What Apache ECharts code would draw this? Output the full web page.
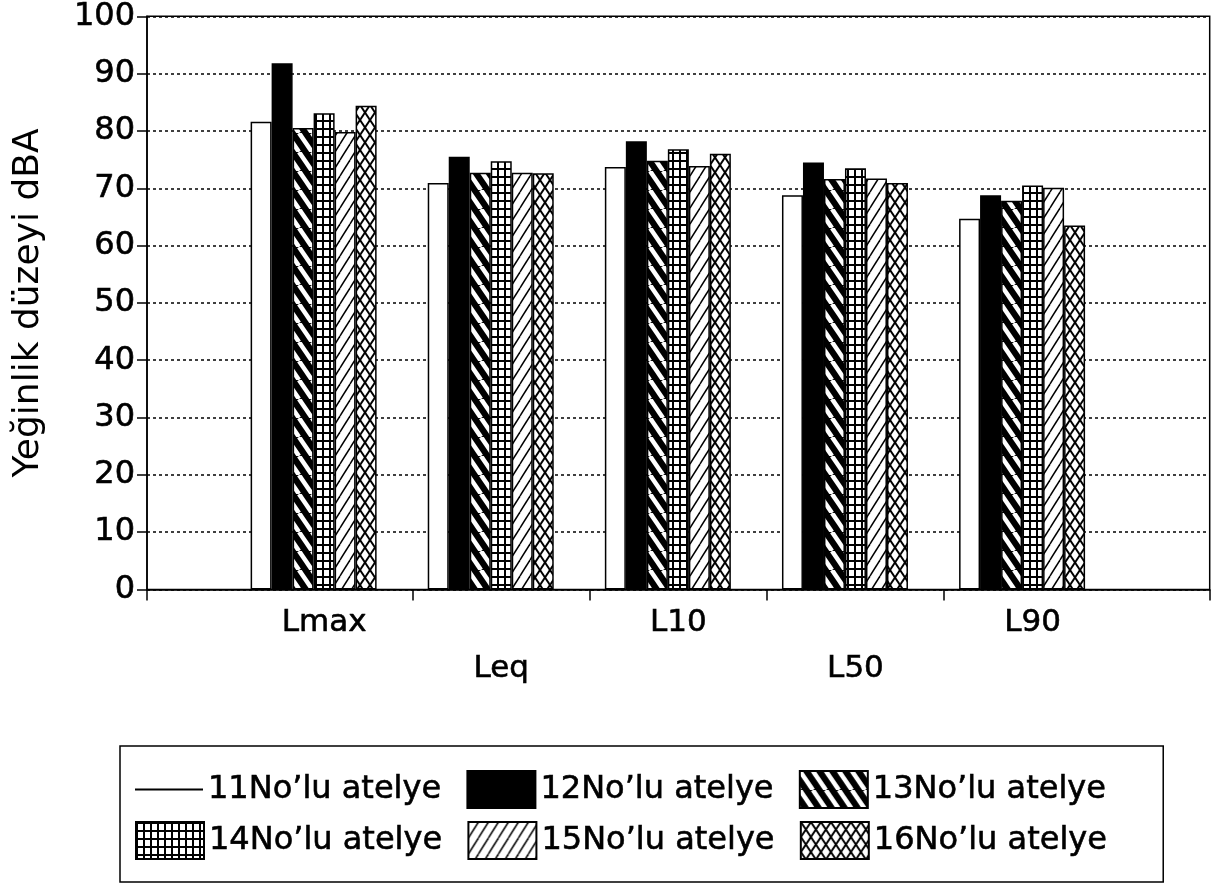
<!DOCTYPE html>
<html><head><meta charset="utf-8">
<script src="https://cdn.jsdelivr.net/npm/echarts@6/dist/echarts.min.js"></script>
<style>html,body{margin:0;padding:0;background:#fff}#c{width:1213px;height:884px}</style>
</head><body><div id="c"></div>
<script>
// ---- data ----
const categories = ['Lmax', 'Leq', 'L10', 'L50', 'L90'];
const seriesNames = ['11No\u2019lu atelye', '12No\u2019lu atelye', '13No\u2019lu atelye',
                     '14No\u2019lu atelye', '15No\u2019lu atelye', '16No\u2019lu atelye'];
const s11 = [81.6, 70.9, 73.7, 68.8, 64.7];
const s12 = [91.8, 75.5, 78.2, 74.5, 68.8];
const s13 = [80.5, 72.7, 74.8, 71.6, 67.8];
const s14 = [83.1, 74.7, 76.8, 73.5, 70.5];
const s15 = [79.8, 72.7, 73.9, 71.7, 70.1];
const s16 = [84.4, 72.6, 76.0, 70.9, 63.5];
const yTicks = [0, 10, 20, 30, 40, 50, 60, 70, 80, 90, 100];
const yTitle = 'Yeğinlik düzeyi dBA';

// ---- patterns ----
function tile(w, h, draw) {
  const c = document.createElement('canvas');
  c.width = w; c.height = h;
  const g = c.getContext('2d');
  draw(g, w, h);
  return { image: c, repeat: 'repeat' };
}
const FONT = 'DejaVu Sans';
const p13 = tile(13, 19, (g, w, h) => {
  g.fillStyle = '#000'; g.fillRect(0, 0, w, h);
  g.strokeStyle = '#fff'; g.lineWidth = 4.5;
  for (let k = -1; k <= 1; k++) { g.beginPath(); g.moveTo(k * w, 0); g.lineTo(k * w + w, h); g.stroke(); }
});
const p14 = tile(7, 8, (g, w, h) => {
  g.fillStyle = '#000'; g.fillRect(0, 0, w, h);
  g.fillStyle = '#fff'; g.fillRect(2, 2, 5, 6);
});
const p15 = tile(10, 16, (g, w, h) => {
  g.fillStyle = '#fff'; g.fillRect(0, 0, w, h);
  g.strokeStyle = '#000'; g.lineWidth = 1.5;
  for (let k = -1; k <= 1; k++) { g.beginPath(); g.moveTo(k * w, h); g.lineTo(k * w + w, 0); g.stroke(); }
});
const p16 = tile(10, 15, (g, w, h) => {
  g.fillStyle = '#fff'; g.fillRect(0, 0, w, h);
  g.strokeStyle = '#000'; g.lineWidth = 2;
  for (let k = -1; k <= 1; k++) {
    g.beginPath(); g.moveTo(k * w, 0); g.lineTo(k * w + w, h); g.stroke();
    g.beginPath(); g.moveTo(k * w, h); g.lineTo(k * w + w, 0); g.stroke();
  }
});
const fills = ['#fff', '#000', p13, p14, p15, p16];
const valueSets = [s11, s12, s13, s14, s15, s16];

const axisCats = [''].concat(categories, ['']);
const series = valueSets.map((vals, i) => ({
  name: seriesNames[i], type: 'bar', xAxisIndex: 0, yAxisIndex: 0,
  barWidth: 21, barGap: '0%',
  data: ['-'].concat(vals, ['-']),
  itemStyle: { color: fills[i], borderColor: '#000', borderWidth: 1.5 }
}));
// spacer slot so each group sits slightly left of its category point
series.push({ name: 'spacer', type: 'bar', xAxisIndex: 0, barWidth: 21, barGap: '0%',
  data: axisCats.map(() => '-'), itemStyle: { color: 'transparent' } });

const black = { color: '#000', width: 1.5 };
const heavy = { textBorderColor: '#000', textBorderWidth: 0.6 };
const chart = echarts.init(document.getElementById('c'), null, { renderer: 'canvas' });
chart.setOption({
  animation: false,
  backgroundColor: '#fff',
  grid: { left: 147, right: 2, top: 16, bottom: 294.5, show: true, borderColor: '#000', borderWidth: 1.5, backgroundColor: 'transparent' },
  xAxis: [
    { type: 'category', data: axisCats, boundaryGap: false, position: 'bottom',
      axisLine: { show: false }, axisTick: { show: false }, splitLine: { show: false },
      axisLabel: Object.assign({ interval: 0, margin: 10, fontSize: 31, fontFamily: FONT, color: '#000', lineHeight: 46,
        formatter: (v, i) => (i % 2 === 0 ? '\n' + v : v) }, heavy) },
    { type: 'value', min: 0, max: 6, position: 'bottom',
      axisLine: { show: true, onZero: false, lineStyle: black },
      axisTick: { show: true, length: 11, customValues: [0, 1.5, 2.5, 3.5, 4.5, 6], lineStyle: black },
      axisLabel: { show: false }, splitLine: { show: false } }
  ],
  yAxis: {
    type: 'value', min: yTicks[0], max: yTicks[yTicks.length - 1], interval: 10,
    name: yTitle, nameLocation: 'middle', nameGap: 100,
    nameTextStyle: { fontSize: 36, fontFamily: FONT, color: '#000' },
    axisLine: { show: true, lineStyle: black },
    axisTick: { show: true, length: 10, lineStyle: black },
    axisLabel: Object.assign({ fontSize: 32, fontFamily: FONT, color: '#000', margin: 12 }, heavy),
    splitLine: { show: true, lineStyle: { color: '#000', width: 1.5, type: [3, 3] } }
  },
  legend: [
    { left: 120, top: 746, orient: 'horizontal', padding: [24, 57, 73, 15], icon: 'rect',
      itemWidth: 68, itemHeight: 37, itemGap: 25, borderColor: '#000', borderWidth: 1.5,
      textStyle: Object.assign({ fontSize: 32, fontFamily: FONT, color: '#000' }, heavy),
      data: [
        { name: seriesNames[0], icon: 'path://M0,0H100V3H0Z', itemStyle: { color: '#000', borderWidth: 0 } },
        seriesNames[1], seriesNames[2]
      ] },
    { left: 135, top: 821, orient: 'horizontal', padding: 0, icon: 'rect',
      itemWidth: 68, itemHeight: 37, itemGap: 25,
      textStyle: Object.assign({ fontSize: 32, fontFamily: FONT, color: '#000' }, heavy),
      data: [seriesNames[3], seriesNames[4], seriesNames[5]] }
  ],
  series: series
});
</script></body></html>
